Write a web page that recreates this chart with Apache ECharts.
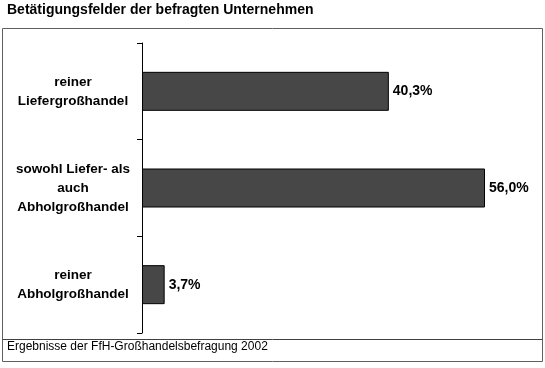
<!DOCTYPE html>
<html>
<head>
<meta charset="utf-8">
<script src="https://cdn.jsdelivr.net/npm/echarts@6/dist/echarts.min.js"></script>
<style>html,body{margin:0;padding:0;background:#fff}#c{width:545px;height:368px}</style>
</head>
<body>
<div id="c"></div>
<script>
const titleText = 'Betätigungsfelder der befragten Unternehmen';
const footerText = 'Ergebnisse der FfH-Großhandelsbefragung 2002';
const categories = ['reiner\nLiefergroßhandel', 'sowohl Liefer- als\nauch\nAbholgroßhandel', 'reiner\nAbholgroßhandel'];
const values = [40.3, 56.0, 3.7];
const valueLabels = ['40,3%', '56,0%', '3,7%'];

const chart = echarts.init(document.getElementById('c'), null, {renderer: 'canvas'});
const font = 'Arial, "Liberation Sans", sans-serif';
chart.setOption({
  animation: false,
  backgroundColor: '#fff',
  grid: {left: 142, right: 35.5, top: 43, bottom: 35},
  xAxis: {type: 'value', min: 0, max: 60, show: false},
  yAxis: {
    type: 'category', data: categories, inverse: true,
    axisLine: {show: true, lineStyle: {color: '#000', width: 1}},
    axisTick: {show: true, length: 5, lineStyle: {color: '#000', width: 1}},
    axisLabel: {
      margin: 69, align: 'center', color: '#000', fontFamily: font,
      fontWeight: 'bold', fontSize: 13.5, lineHeight: 19
    }
  },
  series: [{
    type: 'bar', data: values, barWidth: 39,
    itemStyle: {color: '#474747', borderColor: '#000', borderWidth: 1},
    label: {
      show: true, position: 'right', distance: 4, color: '#000',
      fontFamily: font, fontWeight: 'bold', fontSize: 14,
      formatter: p => valueLabels[p.dataIndex]
    }
  }],
  graphic: [
    {type: 'text', left: 7, top: 3, style: {text: titleText, font: 'bold 14px ' + font, fill: '#000'}},
    {type: 'rect', shape: {x: 2.5, y: 28.5, width: 540, height: 333}, style: {fill: null, stroke: '#606060', lineWidth: 1}, z: -1},
    {type: 'line', shape: {x1: 2.5, y1: 339.5, x2: 542.5, y2: 339.5}, style: {stroke: '#404040', lineWidth: 1}},
    {type: 'text', left: 7, top: 341, style: {text: footerText, font: '12px ' + font, fill: '#000'}}
  ]
});
</script>
</body>
</html>
